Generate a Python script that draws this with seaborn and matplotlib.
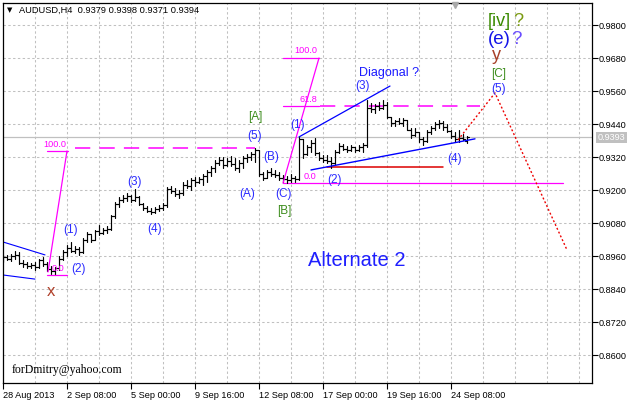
import numpy as np
import pandas as pd
import matplotlib
matplotlib.use("Agg")
import matplotlib.pyplot as plt
import seaborn as sns

# ---------------- data (AUDUSD H4) ----------------
highs = [.8962,.8965,.8968,.8978,.8975,.8945,.8940,.8935,.8940,.8950,
         .8955,.8940,.8925,.8920,.8960,.8982,.9000,.9011,.8996,.8993,
         .9025,.9047,.9036,.9055,.9073,.9062,.9069,.9109,.9156,.9175,
         .9182,.9189,.9182,.9204,.9178,.9153,.9142,.9135,.9138,.9145,
         .9153,.9211,.9215,.9207,.9200,.9229,.9236,.9244,.9247,.9247,
         .9258,.9273,.9287,.9309,.9320,.9320,.9316,.9324,.9316,.9309,
         .9324,.9331,.9338,.9353,.9345,.9265,.9273,.9280,.9273,.9265,
         .9255,.9251,.9258,.9251,.9393,.9385,.9364,.9382,.9389,.9340,
         .9327,.9327,.9320,.9345,.9371,.9367,.9360,.9364,.9356,.9364,
         .9371,.9527,.9516,.9513,.9520,.9527,.9520,.9465,.9455,.9462,
         .9462,.9455,.9425,.9425,.9411,.9393,.9418,.9433,.9447,.9455,
         .9451,.9440,.9418,.9411,.9418,.9404,.9398]
lows = [.8938,.8945,.8942,.8950,.8930,.8920,.8918,.8915,.8910,.8915,
        .8925,.8905,.8895,.8890,.8910,.8945,.8960,.8975,.8971,.8964,
        .8970,.9011,.9011,.9018,.9036,.9040,.9044,.9055,.9100,.9138,
        .9156,.9160,.9156,.9160,.9145,.9127,.9120,.9113,.9116,.9124,
        .9127,.9140,.9189,.9178,.9171,.9182,.9207,.9200,.9215,.9225,
        .9218,.9229,.9251,.9265,.9291,.9280,.9287,.9287,.9273,.9265,
        .9280,.9302,.9309,.9302,.9251,.9236,.9244,.9251,.9247,.9236,
        .9229,.9225,.9229,.9229,.9235,.9316,.9327,.9338,.9327,.9309,
        .9302,.9298,.9280,.9295,.9335,.9345,.9338,.9342,.9338,.9342,
        .9338,.9356,.9484,.9480,.9491,.9495,.9462,.9433,.9433,.9440,
        .9433,.9418,.9389,.9396,.9375,.9364,.9375,.9404,.9418,.9425,
        .9418,.9411,.9389,.9375,.9375,.9382,.9371]
opens = [.8950,.8955,.8950,.8960,.8965,.8935,.8930,.8925,.8928,.8920,
         .8945,.8930,.8912,.8905,.8915,.8950,.8975,.8990,.8980,.8985,
         .8975,.9020,.9040,.9020,.9050,.9045,.9055,.9060,.9105,.9150,
         .9165,.9170,.9180,.9165,.9175,.9150,.9135,.9125,.9120,.9130,
         .9135,.9145,.9205,.9195,.9185,.9190,.9220,.9215,.9235,.9230,
         .9240,.9250,.9265,.9280,.9300,.9310,.9290,.9305,.9295,.9280,
         .9300,.9315,.9320,.9330,.9345,.9260,.9245,.9265,.9260,.9255,
         .9245,.9240,.9235,.9245,.9240,.9385,.9330,.9355,.9370,.9335,
         .9315,.9310,.9305,.9300,.9340,.9360,.9350,.9345,.9355,.9345,
         .9355,.9365,.9500,.9495,.9505,.9500,.9510,.9465,.9445,.9450,
         .9445,.9455,.9420,.9400,.9410,.9385,.9380,.9410,.9425,.9440,
         .9445,.9430,.9415,.9395,.9385,.9390,.9379]
closes = [.8955,.8950,.8960,.8965,.8935,.8930,.8925,.8928,.8920,.8945,
          .8930,.8912,.8905,.8915,.8950,.8975,.8990,.8980,.8985,.8975,
          .9020,.9040,.9020,.9050,.9045,.9055,.9060,.9105,.9150,.9165,
          .9170,.9180,.9165,.9175,.9150,.9135,.9125,.9120,.9130,.9135,
          .9145,.9205,.9195,.9185,.9190,.9220,.9215,.9235,.9230,.9240,
          .9250,.9265,.9280,.9300,.9310,.9290,.9305,.9295,.9280,.9300,
          .9315,.9320,.9330,.9345,.9260,.9245,.9265,.9260,.9255,.9245,
          .9240,.9235,.9245,.9240,.9385,.9330,.9355,.9370,.9335,.9315,
          .9310,.9305,.9300,.9340,.9360,.9350,.9345,.9355,.9345,.9355,
          .9365,.9500,.9495,.9505,.9500,.9510,.9465,.9445,.9450,.9445,
          .9455,.9420,.9400,.9410,.9385,.9380,.9410,.9425,.9440,.9445,
          .9430,.9415,.9395,.9385,.9390,.9385,.9394]

date_ticks = [0, 16, 32, 48, 64, 80, 96, 112]
date_labels = ["28 Aug 2013", "2 Sep 08:00", "5 Sep 00:00", "9 Sep 16:00",
               "12 Sep 08:00", "17 Sep 00:00", "19 Sep 16:00", "24 Sep 08:00"]
price_ticks = [0.8600, 0.8720, 0.8840, 0.8960, 0.9080, 0.9200,
               0.9320, 0.9440, 0.9560, 0.9680, 0.9800]
current_price = 0.9393

# analysis drawings (bar index, price)
wedge_upper_x, wedge_upper_y = [0, 10.5], [0.9011, 0.8964]
wedge_lower_x, wedge_lower_y = [0, 8], [0.8891, 0.8876]
fib1_leg_x, fib1_leg_y = [11.25, 16], [0.8902, 0.9342]
fib1_zero, fib1_hundred, fib1_proj = 0.8891, 0.9342, 0.9353
fib2_leg_x, fib2_leg_y = [70, 79], [0.9225, 0.9680]
fib2_zero, fib2_618, fib2_hundred = 0.9225, 0.9506, 0.9680
support_x, support_y = [81, 110], [0.9284, 0.9284]
diag_up_x, diag_up_y = [74, 96.75], [0.9393, 0.9578]
diag_lo_x, diag_lo_y = [77, 118], [0.9273, 0.9386]
proj_x, proj_y = [113.75, 123, 141], [0.9382, 0.9553, 0.8982]

# ---------------- figure ----------------
sns.set_style("white")
plt.rcParams["font.family"] = ["Liberation Sans", "DejaVu Sans"]

W, H = 629, 405
fig = plt.figure(figsize=(W / 100, H / 100), dpi=100)
fig.patch.set_facecolor("white")
ax = fig.add_axes([3 / W, 22 / H, 589 / W, 380 / H])
ax.set_facecolor("white")

XMIN, XMAX = 0, 147.25
YMIN, YMAX = 0.84982, 0.98800
ax.set_xlim(XMIN, XMAX)
ax.set_ylim(YMIN, YMAX)

def bx(px):   # pixel x -> bar index
    return XMIN + (px - 3) / 589 * (XMAX - XMIN)

def py(pyy):  # pixel y -> price
    return YMAX - (pyy - 3) / 380 * (YMAX - YMIN)

# grid
grid_kw = dict(color="#c0c0c0", lw=0.75, ls=(0, (2.3, 2.3)), zorder=0)
for gx in range(8, 148, 8):
    ax.axvline(gx, **grid_kw)
for gy in price_ticks:
    ax.axhline(gy, **grid_kw)

# current price line
ax.axhline(current_price, color="#c0c0c0", lw=0.9, zorder=1)

# OHLC bars through seaborn
n = len(highs)
rows = []
for i in range(n):
    rows += [(3 * i, i, lows[i]), (3 * i, i, highs[i]),
             (3 * i + 1, i - 0.38, opens[i]), (3 * i + 1, i, opens[i]),
             (3 * i + 2, i, closes[i]), (3 * i + 2, i + 0.38, closes[i])]
bars = pd.DataFrame(rows, columns=["unit", "bar", "price"])
sns.lineplot(data=bars, x="bar", y="price", units="unit", estimator=None,
             sort=False, color="black", lw=0.85, ax=ax, zorder=3, legend=False)

MAG = "#ff00ff"
BLUE = "#0000ff"
# wedge lines at start
ax.plot(wedge_upper_x, wedge_upper_y, color=BLUE, lw=0.8, zorder=2)
ax.plot(wedge_lower_x, wedge_lower_y, color=BLUE, lw=0.8, zorder=2)

# fib 1
ax.plot(fib1_leg_x, fib1_leg_y, color=MAG, lw=0.9, zorder=4)
ax.plot([11, 16], [fib1_zero, fib1_zero], color=MAG, lw=0.9, zorder=4)
ax.plot([11, 16.25], [fib1_hundred, fib1_hundred], color=MAG, lw=0.9, zorder=4)
ax.plot([18, 63], [fib1_proj, fib1_proj], color=MAG, lw=1.1, ls=(0, (10, 6)), zorder=2)

# fib 2
ax.plot(fib2_leg_x, fib2_leg_y, color=MAG, lw=0.9, zorder=4)
ax.plot([70, 79], [fib2_hundred, fib2_hundred], color=MAG, lw=0.9, zorder=4)
ax.plot([70, 79], [fib2_618, fib2_618], color=MAG, lw=0.9, zorder=4)
ax.plot([79.25, 119.25], [fib2_618, fib2_618], color=MAG, lw=1.1, ls=(0, (10, 6)), zorder=2)
ax.plot([70, 140], [fib2_zero, fib2_zero], color=MAG, lw=0.9, zorder=2)

# support / diagonal / projection
ax.plot(support_x, support_y, color="#dd0000", lw=1.1, zorder=2)
ax.plot(diag_up_x, diag_up_y, color=BLUE, lw=0.9, zorder=4)
ax.plot(diag_lo_x, diag_lo_y, color=BLUE, lw=1.0, zorder=4)
ax.plot(proj_x, proj_y, color="#ee0000", lw=1.0, ls=(0, (1.4, 1.6)), zorder=4)

# fib texts
fib_fs = 6.6
for txt, x, y in [("100.0", 55, 145), ("0.0", 58, 269),
                  ("100.0", 306, 51), ("61.8", 308, 100), ("0.0", 310, 177)]:
    ax.text(bx(x), py(y), txt, color=MAG, fontsize=fib_fs, ha="center", va="center", zorder=5)

# wave labels
WB = "#2b2bff"
GR = "#3c8c1c"
wave = [("(1)", 71, 230, WB), ("(2)", 78, 269, WB), ("(3)", 134, 182, WB),
        ("(4)", 155, 229, WB), ("(A)", 247, 194, WB), ("(5)", 255, 136, WB),
        ("[A]", 255, 117, GR), ("(B)", 271, 157, WB), ("(C)", 284, 194, WB),
        ("[B]", 284, 211, GR), ("(1)", 298, 125, WB), ("(2)", 335, 180, WB),
        ("(3)", 362, 86, WB), ("(4)", 455, 159, WB), ("(5)", 499, 89, WB),
        ("[C]", 499, 74, GR)]
for txt, x, y, c in wave:
    ax.text(bx(x), py(y), txt, color=c, fontsize=8.5, ha="center", va="center", zorder=6)

ax.text(bx(389), py(73), "Diagonal ?", color="#1a1aff", fontsize=9, ha="center", va="center", zorder=6)
ax.text(bx(51), py(292), "x", color="#b0402a", fontsize=12, ha="center", va="center", zorder=6)
ax.text(bx(496), py(56), "y", color="#a8402a", fontsize=13, ha="center", va="center", zorder=6)
ax.text(bx(499), py(40), "(e)", color="#1515e8", fontsize=13.5, ha="center", va="center", zorder=6)
ax.text(bx(516), py(40), "?", color="#6a4dff", fontsize=13.5, ha="center", va="center", zorder=6)
ax.text(bx(499), py(22), "[iv]", color="#3a8a00", fontsize=13, ha="center", va="center", zorder=6)
ax.text(bx(518), py(22), "?", color="#7a9a10", fontsize=13, ha="center", va="center", zorder=6)
ax.text(bx(357), py(261), "Alternate 2", color="#1f1fff", fontsize=14.5, ha="center", va="center", zorder=6)

# watermark
ax.text(bx(12), py(370), "forDmitry@yahoo.com", color="black", fontsize=8.5,
        family=["Liberation Serif", "DejaVu Serif"], ha="left", va="center", zorder=6)

# chart header
fig.text(9.5 / W, 1 - 10.5 / H, "\u25BC", fontsize=5, family=["DejaVu Sans"],
         ha="center", va="center", color="black")
fig.text(19 / W, 1 - 10.5 / H, "AUDUSD,H4  0.9379 0.9398 0.9371 0.9394",
         fontsize=6.7, ha="left", va="center", color="black")
ax.plot([bx(455)], [py(5.5)], marker="v", color="#a8a8a8", ms=5, clip_on=False, zorder=7)

# axes styling
for s in ax.spines.values():
    s.set_visible(True)
    s.set_color("black")
    s.set_linewidth(0.9)
ax.yaxis.tick_right()
ax.set_yticks(price_ticks)
ax.set_yticklabels([f"{v:.4f}" for v in price_ticks])
ax.set_xticks(date_ticks)
ax.set_xticklabels(date_labels, ha="left")
ax.tick_params(axis="y", direction="out", length=4, width=0.8, pad=1,
               labelsize=6.6, colors="black", right=True, left=False)
ax.tick_params(axis="x", direction="out", length=4, width=0.8, pad=1.5,
               labelsize=6.6, colors="black", bottom=True)
ax.set_xlabel("")
ax.set_ylabel("")

# current price tag on the scale
fig.text(611.5 / W, 1 - 137.5 / H, f"{current_price:.4f}", fontsize=6.6, color="white",
         ha="center", va="center",
         bbox=dict(boxstyle="square,pad=0.15", facecolor="#c0c0c0", edgecolor="none"))

fig.savefig("out.png", dpi=100)
